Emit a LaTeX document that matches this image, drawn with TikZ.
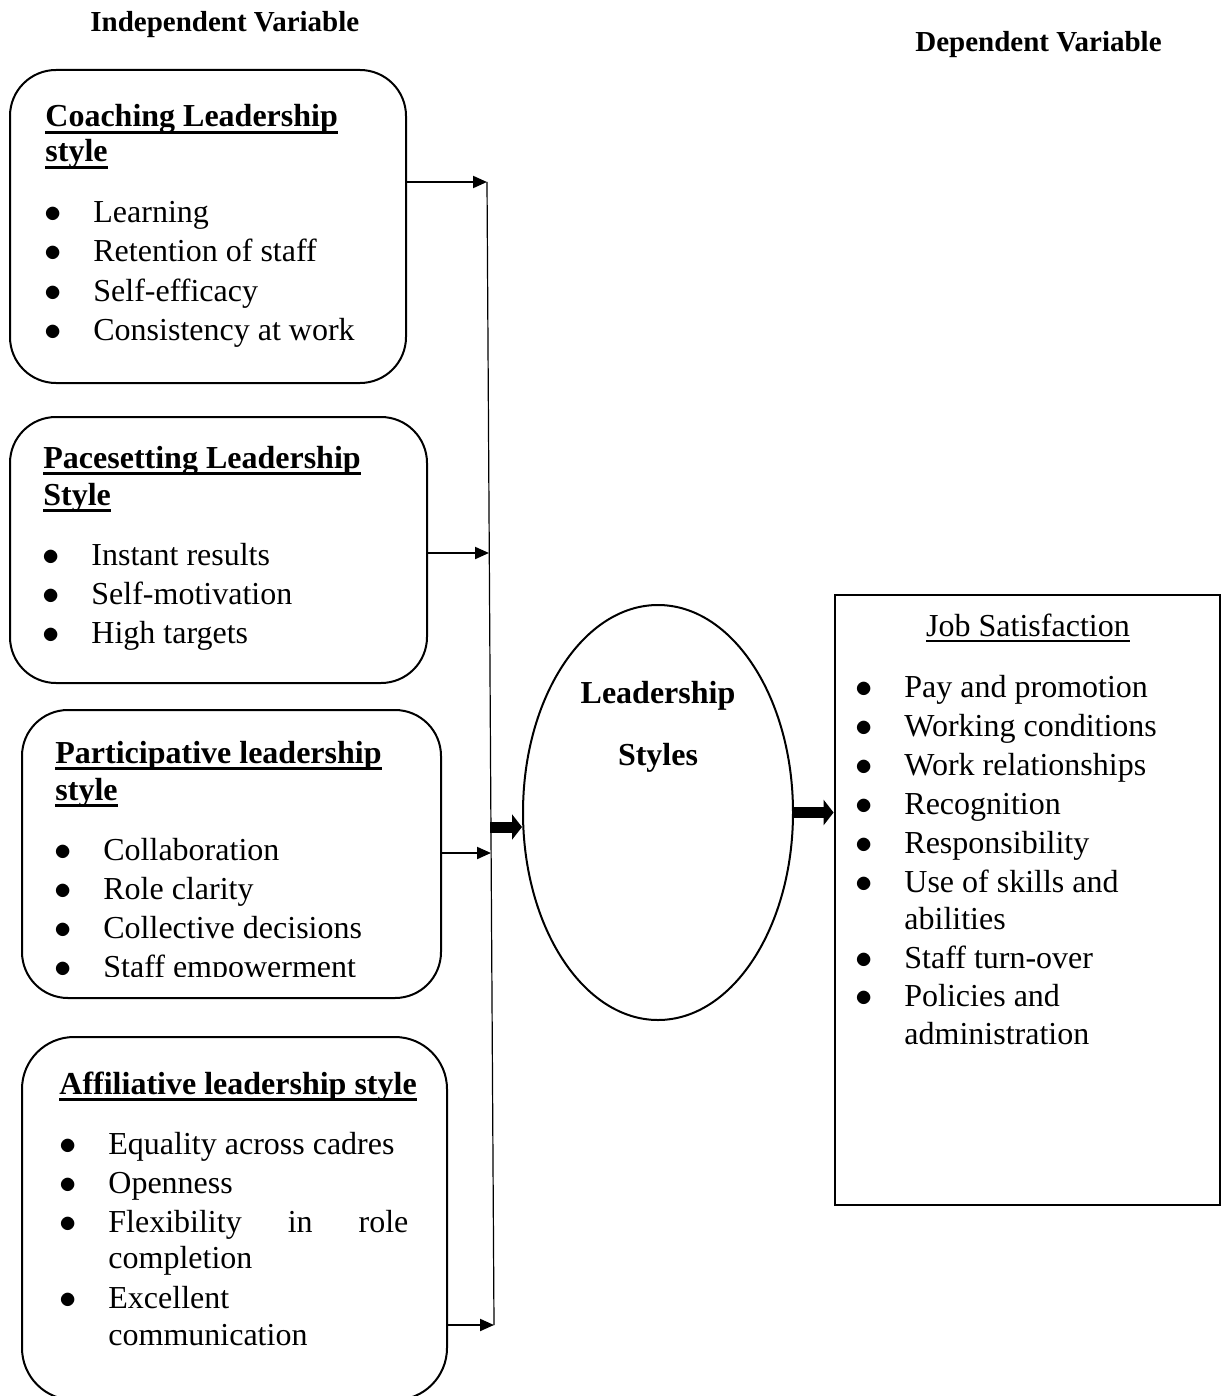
\documentclass[tikz,border=0pt]{standalone}
\usepackage{fontspec}
\setmainfont{Liberation Serif}
\usetikzlibrary{shapes.geometric,arrows.meta}

\newcommand{\bl}{\makebox[24.5pt][l]{$\bullet$}}
\newcommand{\ulh}[1]{\setbox0\hbox{#1}\rlap{\rule[-3.4pt]{\wd0}{1.3pt}}\box0}
\newcommand{\ulj}[1]{\setbox0\hbox{#1}\rlap{\rule[-3pt]{\wd0}{0.8pt}}\box0}

\begin{document}
\begin{tikzpicture}[x=0.5pt,y=-0.5pt,>={Triangle[length=7pt,width=6pt]},
    rbox/.style={draw,line width=1pt,rounded corners=23pt,inner sep=0pt},
    txt/.style={anchor=base west,inner sep=0pt,font=\fontsize{16}{19.5}\selectfont},
    head/.style={txt,font=\fontsize{16}{19.5}\selectfont\bfseries},
    var/.style={anchor=base west,inner sep=0pt,font=\fontsize{14.5}{17}\selectfont\bfseries},
    link/.style={->,line width=1pt},
    fat/.style={-{Triangle[length=5pt,width=12.5pt]},line width=5.5pt}]

                \useasboundingbox (0,0) rectangle (1225,1396);

                \node[var] (iv) at (90,32) {Independent Variable};
                \node[var] (dv) at (915,52) {Dependent Variable};

                % coaching
                \node[rbox,minimum width=198pt,minimum height=156.5pt] (coach) at (208,226.5) {};
                \node[head] (coach1) at (45,127) {\ulh{Coaching Leadership}};
                \node[head] (coach2) at (45,162) {\ulh{style}};
                \node[txt] (coachA) at (44,223) {\bl Learning};
                \node[txt] (coachB) at (44,262) {\bl Retention of staff};
                \node[txt] (coachC) at (44,301) {\bl Self-efficacy};
                \node[txt] (coachD) at (44,340) {\bl Consistency at work};

                % pacesetting
                \node[rbox,minimum width=208.5pt,minimum height=133pt] (pace) at (218.5,550) {};
                \node[head] (pace1) at (43,468) {\ulh{Pacesetting Leadership}};
                \node[head] (pace2) at (43,505) {\ulh{Style}};
                \node[txt] (paceA) at (42,565) {\bl Instant results};
                \node[txt] (paceB) at (42,604) {\bl Self-motivation};
                \node[txt] (paceC) at (42,643) {\bl High targets};

                % participative
                \node[rbox,minimum width=209.5pt,minimum height=144pt] (part) at (231.5,854) {};
                \node[head] (part1) at (55,763) {\ulh{Participative leadership}};
                \node[head] (part2) at (55,800) {\ulh{style}};
                \node[txt] (partA) at (54,860) {\bl Collaboration};
                \node[txt] (partB) at (54,899) {\bl Role clarity};
                \node[txt] (partC) at (54,938) {\bl Collective decisions};
                \begin{scope}
                \clip (22,700) rectangle (441,976);
                \node[txt] (partD) at (54,977) {\bl Staff empowerment};
                \end{scope}

                % affiliative
                \node[rbox,rounded corners=26pt,minimum width=212.5pt,minimum height=181.5pt] (affil) at (234.5,1218.5) {};
                \node[head] (affil1) at (59,1094) {\ulh{Affiliative leadership style}};
                \node[txt] (affilA) at (59,1154) {\bl Equality across cadres};
                \node[txt] (affilB) at (59,1193) {\bl Openness};
                \node[txt] (affilC) at (59,1232) {\bl\makebox[150pt][l]{Flexibility\hfill in\hfill role}};
                \node[txt] (affilC2) at (108,1268) {completion};
                \node[txt] (affilD) at (59,1308) {\bl Excellent};
                \node[txt] (affilD2) at (108,1345) {communication};

                % centre
                \node[ellipse,draw,line width=1pt,inner sep=0pt,minimum width=135pt,minimum height=207.5pt] (ls) at (658,812.5) {};
                \node[head,anchor=base] (ls1) at (658,703) {Leadership};
                \node[head,anchor=base] (ls2) at (658,765) {Styles};

                % job satisfaction
                \node[draw,line width=1.4pt,inner sep=0pt,minimum width=192.5pt,minimum height=305pt] (job) at (1027.5,900) {};
                \node[txt,anchor=base] (job0) at (1028,636) {\ulj{Job Satisfaction}};
                \node[txt] (jobA) at (855,697) {\bl Pay and promotion};
                \node[txt] (jobB) at (855,736) {\bl Working conditions};
                \node[txt] (jobC) at (855,775) {\bl Work relationships};
                \node[txt] (jobD) at (855,814) {\bl Recognition};
                \node[txt] (jobE) at (855,853) {\bl Responsibility};
                \node[txt] (jobF) at (855,892) {\bl Use of skills and};
                \node[txt] (jobF2) at (904,929) {abilities};
                \node[txt] (jobG) at (855,968) {\bl Staff turn-over};
                \node[txt] (jobH) at (855,1006) {\bl Policies and};
                \node[txt] (jobH2) at (904,1044) {administration};

                \coordinate (t1) at (487,182);
                \coordinate (t2) at (489,553);
                \coordinate (t3) at (491,853);
                \coordinate (t4) at (494,1325);
                \coordinate (j0) at (490,827);

                \draw[line width=0.6pt] (t1) -- (t4);
                \draw[link] (coach.east |- t1) -- (t1);
                \draw[link] (pace.east |- t2) -- (t2);
                \draw[link] (part.east |- t3) -- (t3);
                \draw[link] (affil.east |- t4) -- (t4);
                \draw[fat] (j0) -- (ls.west |- j0);
                \draw[fat] (ls.east) -- (job.west |- ls.east);

            \end{tikzpicture}
\end{document}
